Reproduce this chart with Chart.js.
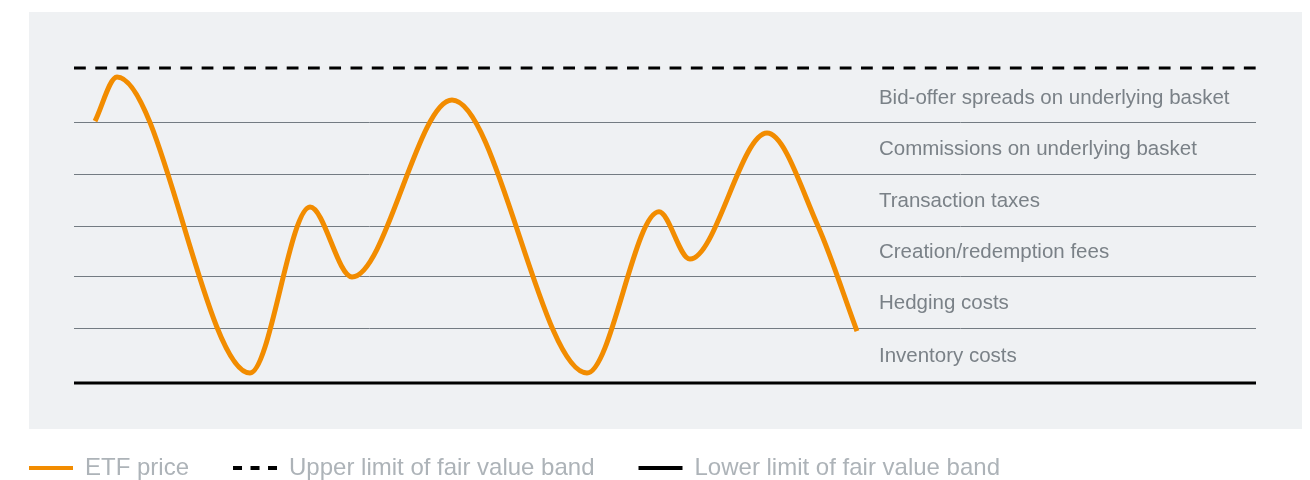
<!DOCTYPE html>
<html>
<head>
<meta charset="utf-8">
<title>ETF price and the fair value band</title>
<script src="https://cdn.jsdelivr.net/npm/chart.js@4/dist/chart.umd.min.js"></script>
<style>
  html, body { margin: 0; padding: 0; background: #ffffff; }
  #wrap { width: 1310px; height: 480px; position: relative; }
</style>
</head>
<body>
<div id="wrap"><canvas id="chart"></canvas></div>
<script>
// ETF price path: turning points plus start and end (time 0–100, price in band units)
const etfX = [1.78, 3.64, 14.89, 19.97, 23.52, 31.98, 43.40, 49.49, 52.11, 58.63, 62.94, 66.24];
const etfY = [4.99, 5.83, 0.19, 3.35, 2.02, 5.39, 0.19, 3.26, 2.36, 4.76, 2.99, 0.99];

// Fair value band limits and its horizontal extent
const bandX = [0, 100];
const upperLimit = 6;
const lowerLimit = 0;

// Cost layers stacked inside the band (edges bottom to top) and their labels
const layerEdges = [0, 1.04, 2.02, 2.99, 3.98, 4.97, 6];
const layerLabels = [
  'Inventory costs',
  'Hedging costs',
  'Creation/redemption fees',
  'Transaction taxes',
  'Commissions on underlying basket',
  'Bid-offer spreads on underlying basket'
];
const layerLabelX = 68.1;

const seriesNames = ['ETF price', 'Upper limit of fair value band', 'Lower limit of fair value band'];

const ORANGE = '#f28c00';
const FONT = "'Liberation Sans', Arial, Helvetica, sans-serif";

// grey panel behind the plot
const panelPlugin = {
  id: 'panel',
  beforeDraw(chart) {
    const ctx = chart.ctx;
    ctx.save();
    ctx.fillStyle = '#eff1f3';
    ctx.fillRect(29, 12, 1273, 417);
    ctx.restore();
  }
};

// names of the cost layers, centred in each layer
const layerLabelPlugin = {
  id: 'layerLabels',
  afterDatasetsDraw(chart) {
    const ctx = chart.ctx;
    const xs = chart.scales.x, ys = chart.scales.y;
    ctx.save();
    ctx.font = '20.5px ' + FONT;
    ctx.fillStyle = '#7a8187';
    ctx.textAlign = 'left';
    ctx.textBaseline = 'middle';
    const px = xs.getPixelForValue(layerLabelX);
    layerLabels.forEach((txt, i) => {
      const mid = (layerEdges[i] + layerEdges[i + 1]) / 2;
      const shift = i === layerLabels.length - 1 ? 3 : 1;
      ctx.fillText(txt, px, ys.getPixelForValue(mid) + shift);
    });
    ctx.restore();
  }
};

new Chart(document.getElementById('chart'), {
  type: 'line',
  data: {
    datasets: [
      {
        label: seriesNames[0],
        data: etfX.map((x, i) => ({ x, y: etfY[i] })),
        borderColor: ORANGE,
        backgroundColor: ORANGE,
        borderWidth: 5,
        cubicInterpolationMode: 'monotone',
        pointRadius: 0,
        borderCapStyle: 'butt',
        clip: false
      },
      {
        label: seriesNames[1],
        data: bandX.map(x => ({ x, y: upperLimit })),
        borderColor: '#000000',
        backgroundColor: '#000000',
        borderWidth: 3,
        borderDash: [11.8, 9.47],
        pointRadius: 0,
        clip: false
      },
      {
        label: seriesNames[2],
        data: bandX.map(x => ({ x, y: lowerLimit })),
        borderColor: '#000000',
        backgroundColor: '#000000',
        borderWidth: 3,
        pointRadius: 0,
        clip: false
      }
    ]
  },
  options: {
    responsive: true,
    maintainAspectRatio: false,
    animation: false,
    layout: { padding: { left: -15, right: 54, top: 68, bottom: -10 } },
    scales: {
      x: {
        type: 'linear',
        min: bandX[0],
        max: bandX[1],
        grid: { display: false },
        border: { display: false },
        ticks: { display: false },
        afterFit(scale) { scale.height = 29; }
      },
      y: {
        min: lowerLimit,
        max: upperLimit,
        afterBuildTicks(scale) { scale.ticks = layerEdges.map(v => ({ value: v })); },
        grid: {
          drawTicks: false,
          lineWidth: 1,
          color: ctx => (ctx.index === 0 || ctx.index === layerEdges.length - 1) ? 'rgba(0,0,0,0)' : '#737b82'
        },
        border: { display: false },
        ticks: { display: false },
        afterFit(scale) { scale.width = 89; }
      }
    },
    plugins: {
      tooltip: { enabled: false },
      legend: {
        position: 'bottom',
        align: 'start',
        labels: {
          usePointStyle: true,
          pointStyle: 'line',
          pointStyleWidth: 44,
          padding: 44,
          color: '#adb3b8',
          font: { family: FONT, size: 24 },
          generateLabels(chart) {
            const items = Chart.defaults.plugins.legend.labels.generateLabels(chart);
            return items.map((it, i) => Object.assign(it, {
              lineWidth: 4,
              lineDash: i === 1 ? [9, 8.5] : [],
              pointStyle: 'line'
            }));
          }
        }
      }
    }
  },
  plugins: [panelPlugin, layerLabelPlugin]
});
</script>
</body>
</html>
